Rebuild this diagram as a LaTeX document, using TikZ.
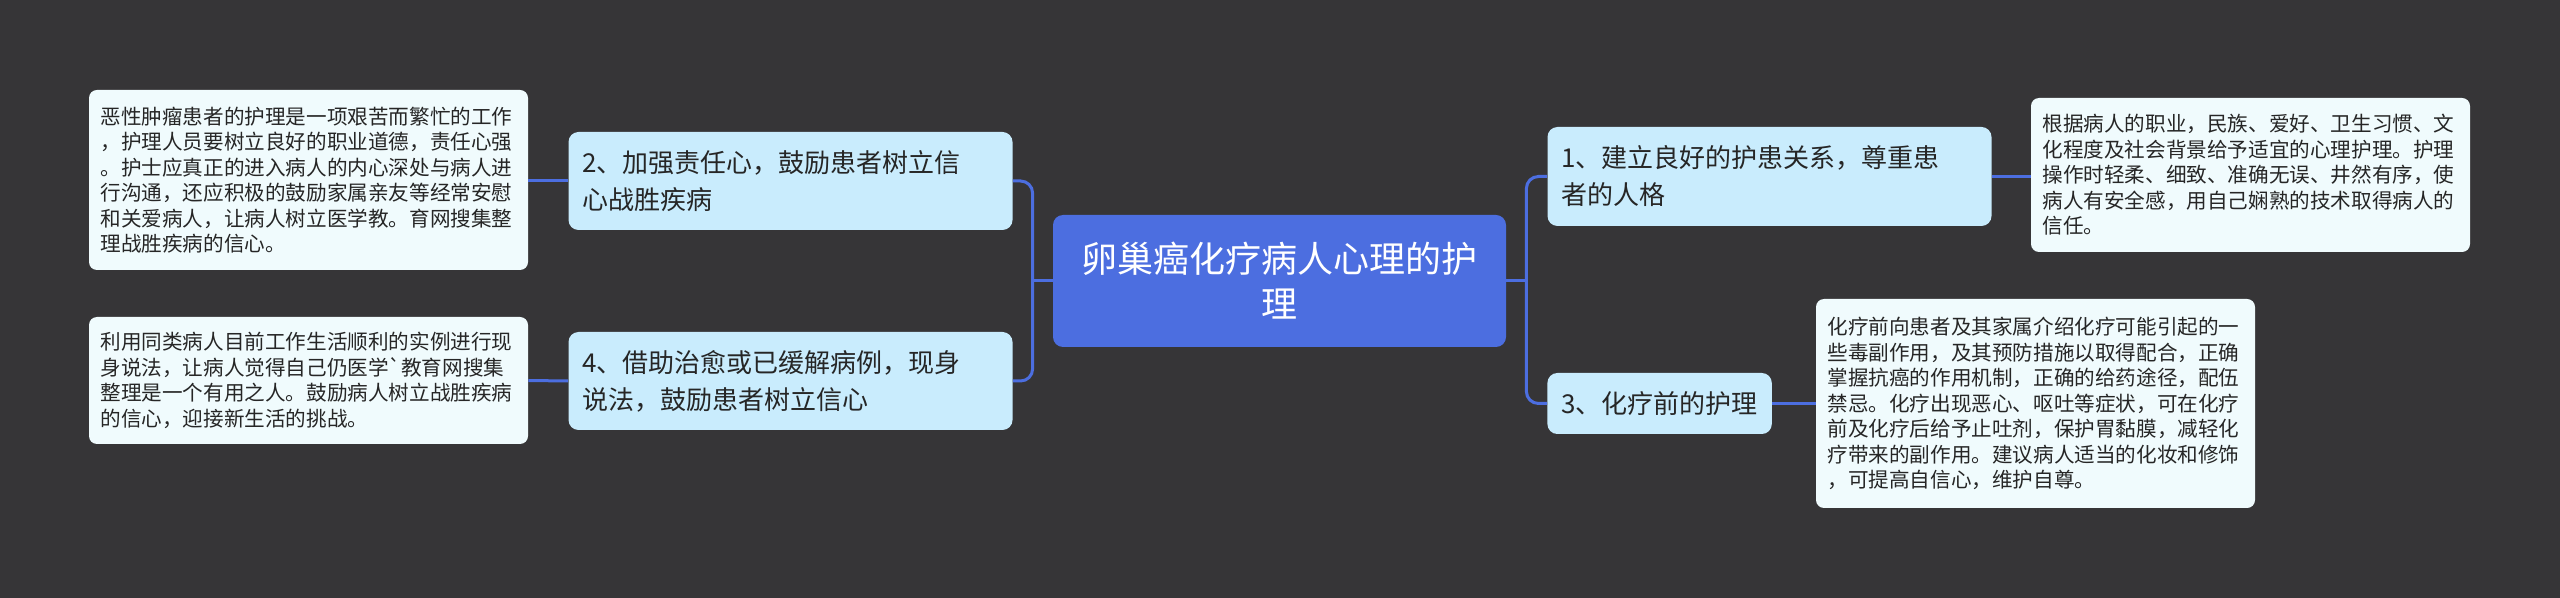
\documentclass[tikz,border=0pt]{standalone}
\usepackage{fontspec}
\setmainfont{Noto Sans CJK SC}[Ligatures=TeXOff]
\usetikzlibrary{positioning, calc}
\definecolor{latarmap}{RGB}{54,53,55}
\definecolor{birupusat}{RGB}{76,110,224}
\definecolor{birutopik}{RGB}{201,236,253}
\definecolor{putihdaun}{RGB}{240,251,253}
\definecolor{tekstua}{RGB}{38,38,38}

\begin{document}
\begin{tikzpicture}[x=0.5pt, y=-0.5pt,
        pusat/.style={rectangle, rounded corners=5pt, fill=birupusat, text=white,
                      font=\fontsize{18}{22.5}\selectfont, align=center,
                      minimum width=226.5pt, minimum height=66pt, inner sep=0pt},
        topik/.style={rectangle, rounded corners=5pt, fill=birutopik, text=tekstua,
                      font=\fontsize{13}{18.5}\selectfont, align=left,
                      inner xsep=7pt, inner ysep=0pt},
        daun/.style={rectangle, rounded corners=4pt, fill=putihdaun, text=tekstua,
                     font=\fontsize{10.3}{12.75}\selectfont, text width=208pt, align=left,
                     inner xsep=5.75pt, inner ysep=0pt},
        garis/.style={draw=birupusat, line width=1.5pt},
        sudut/.style={garis, rounded corners=6pt}
    ]
        \useasboundingbox[fill=latarmap] (0,0) rectangle (2560,598);

        \node[pusat] (akar) at (1279.5,281) {卵巢癌化疗病人心理的护\\理};

        % sisi kanan
        \node[topik, text width=208pt, minimum height=49.5pt] (t1) at (1769.5,176.5)
            {1、建立良好的护患关系，尊重患\\者的人格};
        \node[topik, minimum height=30.5pt, anchor=west] (t3) at (1547,403.5)
            {3、化疗前的护理};
        \node[daun, minimum height=77pt] (d1) at (2250.5,175)
            {根据病人的职业，民族、爱好、卫生习惯、文\\化程度及社会背景给予适宜的心理护理。护理\\操作时轻柔、细致、准确无误、井然有序，使\\病人有安全感，用自己娴熟的技术取得病人的\\信任。};
        \node[daun, minimum height=104.5pt] (d3) at (2035.5,403.5)
            {化疗前向患者及其家属介绍化疗可能引起的一\\些毒副作用，及其预防措施以取得配合，正确\\掌握抗癌的作用机制，正确的给药途径，配伍\\禁忌。化疗出现恶心、呕吐等症状，可在化疗\\前及化疗后给予止吐剂，保护胃黏膜，减轻化\\疗带来的副作用。建议病人适当的化妆和修饰\\，可提高自信心，维护自尊。};

        % sisi kiri
        \node[topik, text width=208pt, minimum height=49pt] (t2) at (790.5,181)
            {2、加强责任心，鼓励患者树立信\\心战胜疾病};
        \node[topik, text width=208pt, minimum height=49pt] (t4) at (790.5,381)
            {4、借助治愈或已缓解病例，现身\\说法，鼓励患者树立信心};
        \node[daun, minimum height=90pt] (d2) at (308.5,180)
            {恶性肿瘤患者的护理是一项艰苦而繁忙的工作\\，护理人员要树立良好的职业道德，责任心强\\。护士应真正的进入病人的内心深处与病人进\\行沟通，还应积极的鼓励家属亲友等经常安慰\\和关爱病人，让病人树立医学教。育网搜集整\\理战胜疾病的信心。};
        \node[daun, minimum height=63.5pt] (d4) at (308.5,380.5)
            {利用同类病人目前工作生活顺利的实例进行现\\身说法，让病人觉得自己仍医学`教育网搜集\\整理是一个有用之人。鼓励病人树立战胜疾病\\的信心，迎接新生活的挑战。};

        \coordinate (simpulkanan) at ([xshift=10pt]akar.east);
        \coordinate (simpulkiri) at ([xshift=-10pt]akar.west);

        \draw[garis] (akar.east) -- (simpulkanan);
        \draw[sudut] (simpulkanan) |- (t1.west);
        \draw[sudut] (simpulkanan) |- (t3.west);
        \draw[garis] (akar.west) -- (simpulkiri);
        \draw[sudut] (simpulkiri) |- (t2.east);
        \draw[sudut] (simpulkiri) |- (t4.east);

        \draw[garis] (t1.east) -- (t1.east -| d1.west);
        \draw[garis] (t3.east) -- (d3.west);
        \draw[garis] (t2.west) -- (t2.west -| d2.east);
        \draw[garis] (t4.west) -- (d4.east);
    \end{tikzpicture}
\end{document}
